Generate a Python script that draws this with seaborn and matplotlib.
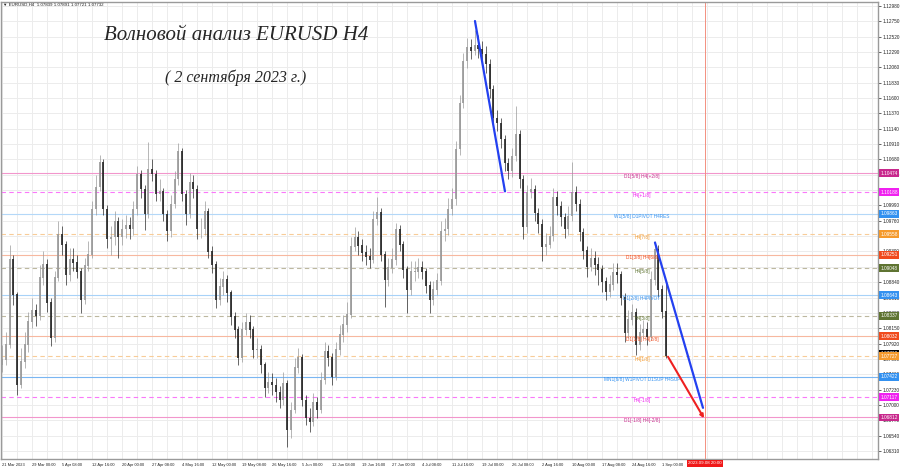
import numpy as np
import pandas as pd
import matplotlib
matplotlib.use('Agg')
import matplotlib.pyplot as plt
import matplotlib.transforms as mtransforms
import seaborn as sns

# EURUSD H4, one candle here = 4 H4 bars
first_open = 1.0760
closes = [1.07677, 1.07902, 1.09179, 1.08653, 1.07301, 1.07647, 1.07902, 1.08248, 1.08413, 1.08338,
          1.08909, 1.09104, 1.08533, 1.08007, 1.08909, 1.09555, 1.09404, 1.08954, 1.09179, 1.09134,
          1.08999, 1.08578, 1.09089, 1.09254, 1.09930, 1.10261, 1.10636, 1.09930, 1.09480, 1.09510,
          1.09750, 1.09510, 1.09630, 1.09690, 1.09630, 1.09930, 1.10456, 1.10231, 1.09855, 1.10531,
          1.10456, 1.10156, 1.10201, 1.09855, 1.09600, 1.10005, 1.10381, 1.10802, 1.10156, 1.09855,
          1.10336, 1.10231, 1.09630, 1.09630, 1.09900, 1.09299, 1.09104, 1.08578, 1.08773, 1.08879,
          1.08683, 1.08323, 1.08127, 1.07707, 1.08127, 1.08233, 1.08127, 1.07827, 1.07827, 1.07602,
          1.07256, 1.07346, 1.07301, 1.07196, 1.07076, 1.07331, 1.06625, 1.06926, 1.07557, 1.07707,
          1.07076, 1.06805, 1.06745, 1.07046, 1.06926, 1.07376, 1.07797, 1.07707, 1.07421, 1.07827,
          1.08052, 1.08203, 1.08353, 1.09374, 1.09510, 1.09389, 1.09284, 1.09224, 1.09179, 1.09780,
          1.09885, 1.09254, 1.08879, 1.09059, 1.09179, 1.09630, 1.09404, 1.09029, 1.08728, 1.08999,
          1.08999, 1.09059, 1.08999, 1.08788, 1.08578, 1.08728, 1.08864, 1.09600, 1.09630, 1.09930,
          1.10080, 1.10832, 1.11523, 1.12154, 1.12364, 1.12304, 1.12394, 1.12334, 1.12259, 1.12109,
          1.11733, 1.11297, 1.11222, 1.10982, 1.10621, 1.10501, 1.10726, 1.11057, 1.10381, 1.09660,
          1.10186, 1.10231, 1.09870, 1.09705, 1.09374, 1.09404, 1.09525, 1.10110, 1.09975, 1.09810,
          1.09630, 1.09825, 1.10186, 1.10005, 1.09585, 1.09314, 1.09074, 1.09194, 1.09104, 1.09029,
          1.08849, 1.08698, 1.08803, 1.08984, 1.08954, 1.08608, 1.08082, 1.08278, 1.08383, 1.07902,
          1.08082, 1.08127, 1.08022, 1.08879, 1.09329, 1.08728, 1.08398, 1.07732]
highs = [1.0790, 1.0810, 1.0940, 1.0925, 1.0870, 1.0785, 1.0810, 1.0840, 1.0860, 1.0852,
         1.0910, 1.0930, 1.0918, 1.0860, 1.0900, 1.0975, 1.0968, 1.0945, 1.0935, 1.0935,
         1.0925, 1.0905, 1.0920, 1.0945, 1.1005, 1.1045, 1.1075, 1.1068, 1.1000, 1.0968,
         1.0990, 1.0982, 1.0978, 1.0985, 1.0982, 1.1005, 1.1058, 1.1052, 1.1030, 1.1094,
         1.1068, 1.1052, 1.1038, 1.1025, 1.0992, 1.1015, 1.1050, 1.1092, 1.1085, 1.1022,
         1.1048, 1.1045, 1.1030, 1.0980, 1.1005, 1.0995, 1.0938, 1.0915, 1.0890, 1.0900,
         1.0895, 1.0872, 1.0840, 1.0818, 1.0825, 1.0838, 1.0835, 1.0818, 1.0800, 1.0790,
         1.0765, 1.0750, 1.0748, 1.0740, 1.0728, 1.0750, 1.0738, 1.0705, 1.0770, 1.0785,
         1.0776, 1.0715, 1.0695, 1.0718, 1.0712, 1.0750, 1.0795, 1.0790, 1.0778, 1.0795,
         1.0820, 1.0835, 1.0854, 1.0952, 1.0967, 1.0960, 1.0948, 1.0940, 1.0935, 1.0990,
         1.1011, 1.0995, 1.0930, 1.0920, 1.0935, 1.0972, 1.0970, 1.0945, 1.0908, 1.0915,
         1.0915, 1.0920, 1.0915, 1.0905, 1.0885, 1.0885, 1.0898, 1.0975, 1.0980, 1.1010,
         1.1025, 1.1095, 1.1165, 1.1228, 1.1250, 1.1248, 1.1262, 1.1255, 1.1245, 1.1238,
         1.1218, 1.1180, 1.1142, 1.1130, 1.1105, 1.1070, 1.1085, 1.1148, 1.1112, 1.1045,
         1.1030, 1.1040, 1.1030, 1.0995, 1.0978, 1.0958, 1.0968, 1.1025, 1.1020, 1.1005,
         1.0988, 1.0998, 1.1064, 1.1028, 1.1008, 1.0965, 1.0938, 1.0935, 1.0930, 1.0922,
         1.0910, 1.0892, 1.0895, 1.0912, 1.0912, 1.0900, 1.0868, 1.0842, 1.0852, 1.0845,
         1.0822, 1.0828, 1.0825, 1.0900, 1.0945, 1.0940, 1.0880, 1.0882]
lows = [1.0750, 1.0760, 1.0785, 1.0850, 1.0715, 1.0725, 1.0755, 1.0780, 1.0815, 1.0818,
        1.0828, 1.0880, 1.0840, 1.0788, 1.0795, 1.0885, 1.0925, 1.0880, 1.0885, 1.0900,
        1.0890, 1.0838, 1.0852, 1.0900, 1.0920, 1.0985, 1.1020, 1.0985, 1.0935, 1.0925,
        1.0940, 1.0920, 1.0940, 1.0950, 1.0948, 1.0955, 1.0985, 1.1010, 1.0962, 1.0980,
        1.1035, 1.1005, 1.1005, 1.0975, 1.0945, 1.0952, 1.0995, 1.1030, 1.1005, 1.0970,
        1.0980, 1.1010, 1.0948, 1.0950, 1.0955, 1.0920, 1.0898, 1.0845, 1.0850, 1.0865,
        1.0855, 1.0820, 1.0800, 1.0760, 1.0765, 1.0805, 1.0800, 1.0770, 1.0770, 1.0748,
        1.0712, 1.0718, 1.0715, 1.0705, 1.0695, 1.0700, 1.0637, 1.0650, 1.0688, 1.0748,
        1.0698, 1.0670, 1.0660, 1.0668, 1.0680, 1.0688, 1.0732, 1.0758, 1.0730, 1.0738,
        1.0775, 1.0795, 1.0810, 1.0830, 1.0930, 1.0925, 1.0915, 1.0910, 1.0905, 1.0912,
        1.0970, 1.0915, 1.0847, 1.0878, 1.0898, 1.0910, 1.0930, 1.0890, 1.0838, 1.0865,
        1.0885, 1.0890, 1.0888, 1.0868, 1.0838, 1.0850, 1.0865, 1.0880, 1.0945, 1.0955,
        1.0985, 1.1000, 1.1075, 1.1145, 1.1205, 1.1218, 1.1225, 1.1220, 1.1212, 1.1198,
        1.1160, 1.1118, 1.1110, 1.1085, 1.1050, 1.1038, 1.1042, 1.1065, 1.1025, 1.0948,
        1.0958, 1.1010, 1.0975, 1.0958, 1.0915, 1.0925, 1.0935, 1.0945, 1.0985, 1.0968,
        1.0950, 1.0955, 1.0975, 1.0990, 1.0945, 1.0918, 1.0892, 1.0900, 1.0895, 1.0880,
        1.0870, 1.0858, 1.0862, 1.0872, 1.0882, 1.0850, 1.0795, 1.0800, 1.0820, 1.0775,
        1.0782, 1.0800, 1.0790, 1.0798, 1.0880, 1.0862, 1.0830, 1.0770]

# Murrey-style levels on the right
levels = [1.10474, 1.10188, 1.09863, 1.09558, 1.09251, 1.09048, 1.08643,
          1.08337, 1.08032, 1.07727, 1.07422, 1.07117, 1.06812]
level_names = ['D1[5/8] H4[+2/8]', 'H4[+1/8]', 'W1[5/8] D1PIVOT H4RES', 'H4[7/8]',
               'D1[3/8] H4[6/8]', 'H4[5/8]', 'D1[2/8] H4PIVOT', 'H4[3/8]',
               'D1[1/8] H4[2/8]', 'H4[1/8]', 'MN1[6/8] W1PIVOT D1SUP H4SUP',
               'H4[-1/8]', 'D1[-1/8] H4[-2/8]']
level_colors = ['#c8288c', '#f020f0', '#3391f0', '#f59a2c', '#f04a1c', '#5f7432', '#3391f0',
                '#5f7432', '#f04a1c', '#f59a2c', '#3391f0', '#f020f0', '#c8288c']
line_colors = ['#f296cc', '#fa78fa', '#b4d8f8', '#f8cc98', '#f7b8a0', '#bdb8a0', '#a8d2f8',
               '#bdb8a0', '#f7b8a0', '#f8cc98', '#7ab6f2', '#fa78fa', '#f296cc']
level_dashed = [False, True, False, True, False, True, False,
                True, False, True, False, True, False]
last_price = 1.07732

# trend lines (bar index, price)
wave_a_bars = [504.5, 536.5]
wave_a_prices = [1.12755, 1.10201]
wave_c_bars = [696.5, 747.7]
wave_c_prices = [1.09434, 1.06956]
arrow_bars = [710.4, 748.8]
arrow_prices = [1.07722, 1.06800]
future_bar = 750

y_ticks = [1.12980, 1.12750, 1.12520, 1.12290, 1.12060, 1.11830, 1.11600, 1.11370, 1.11140,
           1.10910, 1.10680, 1.10450, 1.10220, 1.09990, 1.09760, 1.09530, 1.09300, 1.09070,
           1.08840, 1.08610, 1.08380, 1.08150, 1.07920, 1.07690, 1.07460, 1.07230, 1.07000,
           1.06770, 1.06540, 1.06310]
x_labels = ['21 Mar 2023', '29 Mar 00:00', '5 Apr 08:00', '12 Apr 16:00', '20 Apr 00:00',
            '27 Apr 08:00', '4 May 16:00', '12 May 00:00', '19 May 08:00', '26 May 16:00',
            '5 Jun 00:00', '12 Jun 08:00', '19 Jun 16:00', '27 Jun 00:00', '4 Jul 08:00',
            '11 Jul 16:00', '19 Jul 00:00', '26 Jul 08:00', '2 Aug 16:00', '10 Aug 00:00',
            '17 Aug 08:00', '24 Aug 16:00', '1 Sep 00:00']
future_label = '2023.09.08 20:00'

df = pd.DataFrame({'close': closes, 'high': highs, 'low': lows})
df['open'] = [first_open] + closes[:-1]
df['bar'] = np.arange(len(df)) * 4
df['bull'] = df['close'] >= df['open']

sns.set_theme(style='whitegrid', rc={'grid.color': '#ececec', 'grid.linewidth': 0.7})
plt.rcParams['font.family'] = ['Liberation Sans', 'DejaVu Sans']

fig = plt.figure(figsize=(9, 4.68), dpi=100)
ax = fig.add_axes([1 / 900, 9 / 468, 877 / 900, 457 / 468])
ax.set_facecolor('white')

# levels
for p, c, d in zip(levels, line_colors, level_dashed):
    ax.axhline(p, color=c, lw=0.8, ls=(0, (4, 3)) if d else '-', zorder=1)
for p, n, c in zip(levels, level_names, level_colors):
    ax.annotate(n, xy=(682.7, p), xytext=(0, -2.2), textcoords='offset points',
                ha='center', va='center', fontsize=3.4, color=c, zorder=4)

# candles
cols = np.where(df['bull'], '#9a9a9a', '#2a2a2a')
ax.vlines(df['bar'], df['low'], df['high'], colors=cols, lw=0.5, zorder=3)
body_lo = np.minimum(df['open'], df['close'])
body_hi = np.maximum(df['open'], df['close']) + 0.00004
ax.vlines(df['bar'], body_lo, body_hi, colors=cols, lw=1.25, zorder=3)

# wave lines
ax.axvline(future_bar, color='#f39080', lw=0.7, zorder=2)
sns.lineplot(x=wave_a_bars, y=wave_a_prices, color='#2340f0', lw=1.6, ax=ax, zorder=5)
sns.lineplot(x=wave_c_bars, y=wave_c_prices, color='#2340f0', lw=1.6, ax=ax, zorder=5)
ax.annotate('', xy=(arrow_bars[1], arrow_prices[1]), xytext=(arrow_bars[0], arrow_prices[0]),
            arrowprops=dict(arrowstyle='-|>', color='#ee2020', lw=1.5,
                            mutation_scale=5, shrinkA=0, shrinkB=0), zorder=5)

ax.set_xlim(-1.07, 934.4)
ax.set_ylim(1.06189, 1.13040)

ax.yaxis.tick_right()
ax.set_yticks(y_ticks)
ax.set_yticklabels([f'{t:.5f}' for t in y_ticks])
ax.tick_params(axis='y', labelsize=3.4, pad=1.5, length=2, width=0.5, colors='#222222')
ax.set_xticks(np.arange(len(x_labels)) * 32)
ax.set_xticklabels(x_labels)
ax.set_xticks(np.arange(0, 935, 16), minor=True)
ax.tick_params(axis='x', labelsize=2.9, pad=1.2, length=2, width=0.5, colors='#222222')
plt.setp(ax.get_xticklabels(), ha='left')
ax.grid(True, which='both', color='#ececec', lw=0.7)
ax.set_axisbelow(True)
for s in ax.spines.values():
    s.set_color('#9a9a9a')
    s.set_linewidth(1.0)

# price boxes on the right
trans = mtransforms.blended_transform_factory(ax.transAxes, ax.transData)
ax.annotate(f'{last_price:.5f}', xy=(1, last_price), xycoords=trans, xytext=(1.6, 1.6),
            textcoords='offset points', ha='left', va='center', fontsize=3.4, color='white',
            bbox=dict(boxstyle='square,pad=0.3', fc='black', ec='none'), annotation_clip=False)
for p, c in zip(levels, level_colors):
    ax.annotate(f'{p:.5f}', xy=(1, p), xycoords=trans, xytext=(1.6, 0),
                textcoords='offset points', ha='left', va='center', fontsize=3.4, color='white',
                bbox=dict(boxstyle='square,pad=0.3', fc=c, ec='none'), annotation_clip=False)

trans_x = mtransforms.blended_transform_factory(ax.transData, ax.transAxes)
ax.annotate(future_label, xy=(future_bar, 0), xycoords=trans_x, xytext=(0, -1.6),
            textcoords='offset points', ha='center', va='top', fontsize=3.2, color='white',
            bbox=dict(boxstyle='square,pad=0.3', fc='#f01818', ec='none'), annotation_clip=False)

fig.text(3 / 900, 1 - 5 / 468, '\u25bc EURUSD,H4  1.07839 1.07891 1.07721 1.07732',
         fontsize=3.2, va='center', ha='left', color='#222222')
fig.text(236 / 900, 1 - 35 / 468, 'Волновой анализ EURUSD H4', fontsize=15,
         family=['Liberation Serif', 'DejaVu Serif'], style='italic', ha='center', va='center')
fig.text(236 / 900, 1 - 78 / 468, '( 2 сентября 2023 г.)', fontsize=11.5,
         family=['Liberation Serif', 'DejaVu Serif'], style='italic', ha='center', va='center')

fig.savefig('out.png', dpi=100, facecolor='white')
